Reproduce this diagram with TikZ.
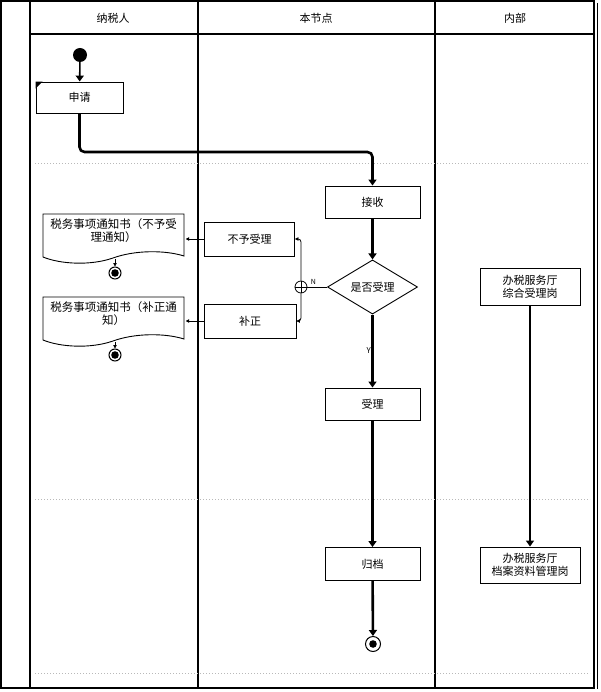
\documentclass[tikz,border=0pt]{standalone}
\usepackage{fontspec}
\newfontfamily\cjk{Noto Sans CJK SC}
\usetikzlibrary{arrows.meta,shapes.geometric}

\tikzset{
  every node/.style={font=\cjk\fontsize{11}{13}\selectfont},
  box/.style={draw, line width=0.9pt, minimum width=95pt, minimum height=32pt, inner sep=0pt, align=center},
  flow/.style={line width=2.6pt, -{Triangle[width=8pt,length=6pt]}, rounded corners=5pt},
  thinflow/.style={line width=0.8pt, -{Triangle[width=3.5pt,length=3.5pt]}, rounded corners=3pt},
  lane/.style={line width=1.1pt},
  sep/.style={gray!55, dotted, line width=1pt},
  doctext/.style={text width=142pt, align=center, anchor=north, inner sep=1pt, font=\cjk\fontsize{11.5}{13}\selectfont},
  endpt/.style={circle, draw, line width=1pt, minimum size=13pt, inner sep=0pt,
    path picture={\fill (path picture bounding box.center) circle (3.8pt);}},
}

\begin{document}
\begin{tikzpicture}[x=1pt, y=-1pt]
  \useasboundingbox (0,0) rectangle (600,692);
  %\draw[lightgray] (0,0) grid[step=50] (600,692);

  % lanes
  \draw[lane] (1,1) rectangle (594,688);
  \draw (597,3) -- (597,689);
  \draw[lane] (30,1) -- (30,688);
  \draw[lane] (198,1) -- (198,688);
  \draw[lane] (435,1) -- (435,688);
  \draw[lane] (30,34) -- (594,34);
  \draw[sep] (35,164) -- (590,164);
  \draw[sep] (35,499) -- (590,499);
  \draw[sep] (35,673) -- (590,673);
  \node (payer) at (113,18) {纳税人};
  \node (self) at (316,18) {本节点};
  \node (inner) at (515,18) {内部};

  % taxpayer
  \node[circle, fill, minimum size=14pt, inner sep=0pt] (start) at (80,55) {};
  \node[box, minimum width=87pt, minimum height=31pt] (apply) at (79.5,97.5) {申请};
  \fill (apply.north west) -- ++(7,0) -- ++(-7,7) -- cycle;
  \draw[flow, line width=1.6pt] (start) -- (apply);

  % this node
  \node[box] (recv) at (372.5,202) {接收};
  \coordinate (turn) at (372.5,152);
  \draw[flow] (apply.south) |- (turn) -- (recv.north);
  \node[diamond, draw, line width=0.9pt, minimum width=90pt, minimum height=54pt, inner sep=0pt] (check) at (372.5,287) {是否受理};
  \draw[flow] (recv) -- (check);
  \node[box] (accept) at (372.5,404) {受理};
  \draw[flow] (check) -- node[left=-3pt, font=\cjk\fontsize{8}{9}\selectfont] {Y} (accept);
  \node[box, minimum height=33pt] (archive) at (372.5,564) {归档};
  \draw[flow] (accept) -- (archive);
  \node[endpt, minimum size=15pt] (fin) at (373,644) {};
  \draw[flow] (archive) -- (fin);

  % N branch
  \node[box, minimum width=90pt, minimum height=34pt] (reject) at (249.5,239) {不予受理};
  \node[box, minimum width=92pt, minimum height=34pt] (fix) at (250,321) {补正};
  \node[circle, draw, line width=0.8pt, minimum size=12pt, inner sep=0pt] (merge) at (301,287) {};
  \draw[line width=0.8pt] (merge.west) -- (merge.east) (merge.north) -- (merge.south);
  \draw[line width=0.8pt] (check.west) -- node[above=-1pt, pos=0.7, font=\cjk\fontsize{7}{8}\selectfont] {N} (merge.east);
  \draw[thinflow] (merge.north) |- (reject.east);
  \draw[thinflow] (merge.south) |- (fix.east);

  % notices
  \draw[line width=0.9pt] (43,214) -- (184,214) -- (184,256)
    .. controls (165,250) and (135,250) .. (113,258)
    .. controls (90,266) and (60,264) .. (43,257) -- cycle;
  \node[doctext] (notice1) at (113.5,217) {税务事项通知书（不予受\\理通知）};
  \draw[thinflow] (reject.west) -- (notice1.east |- reject.west);
  \coordinate (notice1b) at (115,259);
  \node[endpt, minimum size=12pt] (stop1) at (115,273) {};
  \draw[thinflow] (notice1b) -- (stop1);

  \draw[line width=0.9pt] (43,297) -- (184,297) -- (184,339)
    .. controls (165,333) and (135,333) .. (113,341)
    .. controls (90,349) and (60,347) .. (43,340) -- cycle;
  \node[doctext] (notice2) at (113.5,300) {税务事项通知书（补正通\\知）};
  \draw[thinflow] (fix.west) -- (notice2.east |- fix.west);
  \coordinate (notice2b) at (115,342);
  \node[endpt, minimum size=12pt] (stop2) at (115,355) {};
  \draw[thinflow] (notice2b) -- (stop2);

  % inner
  \node[box, minimum width=100pt, minimum height=37pt] (hall1) at (530,287) {办税服务厅\\综合受理岗};
  \node[box, minimum width=100pt, minimum height=36pt] (hall2) at (530,565) {办税服务厅\\档案资料管理岗};
  \draw[flow] (hall1) -- (hall2);
\end{tikzpicture}
\end{document}
